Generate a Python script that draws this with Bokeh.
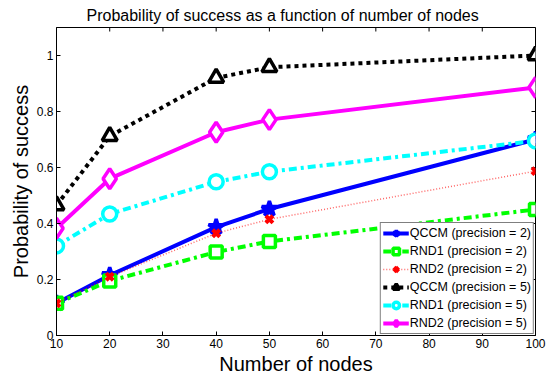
import math
from bokeh.plotting import figure
from bokeh.models import Range1d, FixedTicker, NumeralTickFormatter
from bokeh.embed import file_html
from bokeh.resources import INLINE

nodes = [10, 20, 40, 50, 100]
qccm_p2 = [0.115, 0.215, 0.387, 0.452, 0.700]
rnd1_p2 = [0.115, 0.195, 0.298, 0.336, 0.450]
rnd2_p2 = [0.115, 0.210, 0.365, 0.415, 0.587]
qccm_p5 = [0.465, 0.712, 0.920, 0.958, 1.000]
rnd1_p5 = [0.320, 0.434, 0.549, 0.585, 0.695]
rnd2_p5 = [0.383, 0.560, 0.726, 0.771, 0.886]

x_ticks = [10, 20, 30, 40, 50, 60, 70, 80, 90, 100]
y_ticks = [0, 0.2, 0.4, 0.6, 0.8, 1.0]
x_min, x_max = 10, 100
y_min, y_max = 0, 1.1

FONT = "Liberation Sans"

p = figure(width=555, height=381, x_range=Range1d(x_min, x_max), y_range=Range1d(y_min, y_max),
           output_backend="svg", toolbar_location=None,
           title="Probability of success as a function of number of nodes",
           min_border_left=56, min_border_right=20, min_border_top=27, min_border_bottom=46)
p.title.text_font = FONT
p.title.text_font_size = "16px"
p.title.text_font_style = "normal"
p.title.text_color = "black"
p.title.align = "left"
p.title.offset = 30
p.title.standoff = 8
p.xgrid.visible = False
p.ygrid.visible = False
p.outline_line_color = "black"
p.outline_line_width = 1
p.background_fill_color = "white"
p.border_fill_color = "white"

for ax in p.xaxis:
    ax.ticker = FixedTicker(ticks=x_ticks)
for ax in p.yaxis:
    ax.ticker = FixedTicker(ticks=y_ticks)
    ax.formatter = NumeralTickFormatter(format="0.[0]")

p.xaxis.axis_label = "Number of nodes"
p.yaxis.axis_label = "Probability of success"
for ax in list(p.xaxis) + list(p.yaxis):
    ax.axis_label_text_font = FONT
    ax.axis_label_text_font_size = "20px"
    ax.axis_label_text_font_style = "normal"
    ax.axis_label_text_color = "black"
    ax.major_label_text_font = FONT
    ax.major_label_text_font_size = "12px"
    ax.major_label_text_color = "black"
    ax.axis_line_color = "black"
    ax.major_tick_line_color = "black"
    ax.major_tick_in = 4
    ax.major_tick_out = 0
    ax.minor_tick_line_color = None
    ax.major_label_standoff = 3
    ax.axis_label_standoff = 2

# inward tick marks on the top and right edges of the box (clipped half-dashes)
p.scatter(x_ticks, [y_max] * len(x_ticks), marker="dash", size=8, angle=math.pi / 2,
          line_color="black", line_width=1)
p.scatter([x_max] * len(y_ticks), y_ticks, marker="dash", size=8,
          line_color="black", line_width=1)

series = [
    ("QCCM (precision = 2)", qccm_p2, "#0000ff", "solid", 4, 1.0, "star", 16, "#0000ff"),
    ("RND1 (precision = 2)", rnd1_p2, "#00ff00", "8 4 3 4", 4, 1.0, "square", 12, "white"),
    ("RND2 (precision = 2)", rnd2_p2, "#ff0000", "1 2", 1.5, 0.6, "x", 10, None),
    ("QCCM (precision = 5)", qccm_p5, "#000000", "4 4", 4, 1.0, "triangle", 15, "white"),
    ("RND1 (precision = 5)", rnd1_p5, "#00ffff", "8 4 3 4", 4, 1.0, "circle", 14, "white"),
    ("RND2 (precision = 5)", rnd2_p5, "#ff00ff", "solid", 4, 1.0, "diamond", 20, "white"),
]

for label, ys, color, dash, lw, la, marker, size, fill in series:
    p.line(nodes, ys, line_color=color, line_width=lw, line_dash=dash, line_alpha=la,
           legend_label=label)
    p.scatter(nodes, ys, marker=marker, size=size, line_color=color,
              line_width=4 if marker == "x" else 3.5, fill_color=fill, legend_label=label)

lg = p.legend[0]
lg.location = "bottom_right"
lg.border_line_color = "black"
lg.border_line_width = 1
lg.background_fill_alpha = 1
lg.label_text_font = FONT
lg.label_text_font_size = "12.5px"
lg.label_text_color = "black"
lg.glyph_width = 26
lg.glyph_height = 16
lg.label_height = 16
lg.spacing = 2
lg.padding = 2
lg.margin = 1
lg.label_standoff = 1

open("out.html", "w").write(file_html(p, INLINE))
